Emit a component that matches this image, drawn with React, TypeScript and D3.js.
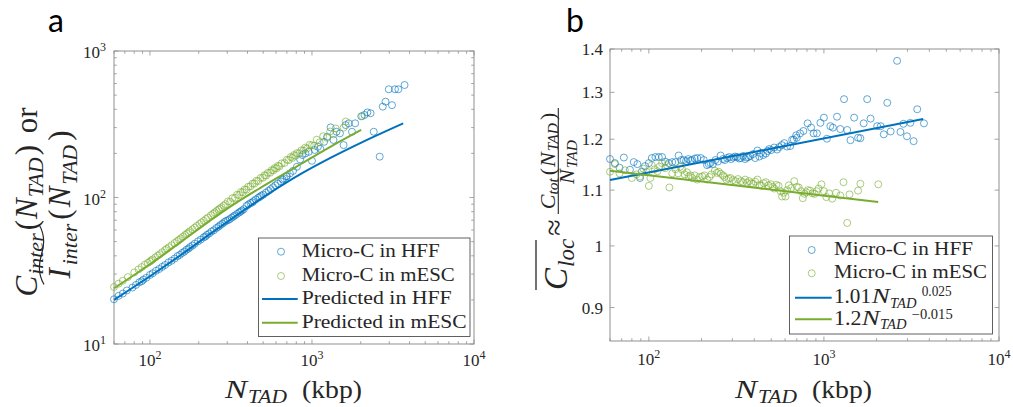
import React from 'react';
import * as d3 from 'd3';

// ---------- data ----------
// [N_TAD (kbp), panel a value, panel b value]
const hffData: [number, number, number][] = [
  [60,20.2,1.160],[64,21.3,1.152],[68,22.1,1.143],[72,23.2,1.163],[78,24.3,1.139],[82,25.3,1.154],[86,26.4,1.150],[89,26.8,1.123],[91,27.5,1.135],[95,28.3,1.146],
  [100,29.6,1.152],[104,30.4,1.162],[109,31.6,1.164],[114,32.5,1.164],[119,33.6,1.164],[124,34.6,1.155],[130,36,1.152],[136,37,1.154],[142,38.3,1.154],[148,39.8,1.167],
  [153,40.6,1.158],[158,41.8,1.158],[163,42.7,1.156],[168,44,1.160],[173,44.8,1.157],[177,45.9,1.158],[183,47,1.161],[189,48.4,1.162],[198,50.2,1.162],[206,51.6,1.158],
  [215,53.5,1.148],[220,54.2,1.150],[225,55.6,1.152],[232,56.8,1.150],[240,58.6,1.158],[248,59.8,1.155],[257,61.9,1.167],[265,63.2,1.160],[272,64.8,1.158],[280,66.2,1.162],
  [288,68,1.164],[295,69.2,1.160],[303,70,1.163],[311,71.2,1.165],[320,72.8,1.164],[328,74.3,1.161],[335,75.5,1.162],[345,77.3,1.166],[355,79,1.160],[362,80.2,1.163],
  [370,81.5,1.164],[380,83.3,1.166],[394,87.5,1.170],[405,89.5,1.162],[417,91.5,1.177],[428,92.5,1.165],[436,94.5,1.172],[450,97,1.168],[466,99.5,1.171],[476,101,1.176],
  [487,103,1.180],[500,104.5,1.178],[520,108,1.183],[540,111,1.179],[556,114,1.184],[575,117.5,1.188],[594,121,1.192],[615,124.5,1.185],[642,129,1.186],[658,133,1.199],
  [673,135,1.199],[694,139.5,1.208],[700,140,1.203],[731,146,1.212],[764,152,1.217],[807,162,1.233],[845,182,1.224],[873,195,1.212],[912,200,1.212],[955,205,1.234],
  [1000,178,1.245],[1040,211,1.201],[1088,222,1.227],[1126,215,1.224],[1188,240,1.247],[1240,260,1.221],[1303,301,1.285],[1358,247,1.219],[1418,281,1.198],[1488,274,1.245],
  [1567,228,1.203],[1615,312,1.202],[1687,321,1.233],[1766,281,1.285],[1847,321,1.243],[2015,358,1.227],[2109,366,1.227],[2197,381,1.210],[2301,376,1.277],[2405,281,1.216],
  [2618,190,1.372],[2735,417,1.215],[2844,451,1.232],[2980,548,1.206],[3118,427,1.234],[3253,548,1.196],[3412,548,1.263],[3727,586,1.233],
];

const mescData: [number, number, number][] = [
  [60,24.5,1.135],[64,25.8,1.150],[68,27,1.132],[73,28.6,1.138],[80,30.8,1.123],[85,32.3,1.130],[89,33.5,1.126],[93,34.8,1.141],[97,35.8,1.135],[100,36.5,1.108],
  [102,37.2,1.123],[104,37.8,1.148],[108,39,1.140],[112,40.2,1.136],[115,41,1.145],[119,42.3,1.152],[124,43.8,1.142],[127,44.6,1.148],[131,45.8,1.105],[136,47.2,1.132],
  [142,48.9,1.140],[147,50.3,1.132],[151,51.4,1.145],[155,52.6,1.139],[160,54,1.130],[165,55.5,1.134],[169,56.6,1.126],[173,57.8,1.128],[177,58.9,1.123],[183,60.6,1.128],
  [189,62.3,1.120],[195,64,1.125],[202,65.9,1.126],[208,67.5,1.128],[215,69.4,1.120],[222,71.3,1.125],[228,72.9,1.130],[238,75.6,1.137],[245,77.4,1.133],[251,79,1.135],
  [258,80.9,1.131],[265,82.7,1.128],[270,84,1.125],[277,85.8,1.120],[285,87.9,1.122],[293,90,1.123],[303,94,1.119],[313,93.5,1.117],[323,99,1.121],[335,99.5,1.117],
  [345,104.5,1.115],[355,104,1.120],[364,109,1.114],[374,108.5,1.117],[384,113.5,1.113],[394,113,1.112],[405,118.5,1.116],[417,119,1.120],[430,124.5,1.110],[442,124.5,1.108],
  [454,130,1.113],[466,129.5,1.115],[482,136,1.109],[498,136.5,1.111],[510,142,1.106],[520,141,1.103],[535,147.5,1.110],[551,147.5,1.108],[565,154,1.098],[577,153,1.088],
  [590,159,1.095],[603,158,1.088],[617,164.5,1.100],[630,163,1.109],[650,171,1.104],[677,172,1.117],[700,181,1.106],[718,180,1.105],[740,189,1.098],[757,186.5,1.085],
  [775,195,1.093],[792,192.5,1.096],[810,201,1.100],[835,200.5,1.099],[860,210,1.094],[885,209,1.093],[910,219,1.098],[932,216,1.103],[968,229,1.111],[1000,227,1.098],
  [1033,226,1.087],[1070,248,1.094],[1115,238,1.084],[1173,262,1.095],[1240,255,1.090],[1294,282,1.115],[1358,270,1.040],[1400,296,1.092],[1567,300,1.099],[1615,330,1.112],
  [2044,360,1.111],
];

// predicted curves (panel a)
const predHffX = [60, 100, 160, 233, 310, 497, 799, 1282, 2061, 3656];
const predHffY = [20, 29, 41.5, 56, 70, 100, 139, 185, 240, 321];
const predMescX = [60, 100, 160, 233, 310, 497, 799, 1282, 2012];
const predMescY = [24, 35, 51, 69, 86, 119, 162, 220, 289];

// power-law fits (panel b), end points
const fitHffX = [60, 3690];
const fitHffY = [1.119, 1.242];
const fitMescX = [60, 2042];
const fitMescY = [1.137, 1.078];

// ticks and legend texts
const xTickExps = [2, 3, 4];
const aYTickExps = [1, 2, 3];
const bYTicks = [0.9, 1, 1.1, 1.2, 1.3, 1.4];
const bYTickLabels = ['0.9', '1', '1.1', '1.2', '1.3', '1.4'];
const legendA = ['Micro-C in HFF', 'Micro-C in mESC', 'Predicted in HFF', 'Predicted in mESC'];
const legendALen = [138, 153, 150, 165];
const legendB = ['Micro-C in HFF', 'Micro-C in mESC'];
const legendBLen = [139, 153];

// ---------- style ----------
const SERIF = '"Liberation Serif", "DejaVu Serif", serif';
const SANS = 'Lato, "Liberation Sans", sans-serif';
const TXT = '#262626';
const AX = '#8f8f8f';
const BLUE = '#0072BD';
const GREEN = '#77AC30';
const serif = { fontFamily: SERIF } as React.CSSProperties;

function logTicks(lo: number, hi: number) {
  const major: number[] = [];
  const minor: number[] = [];
  for (let k = Math.floor(Math.log10(lo)); k <= Math.ceil(Math.log10(hi)); k++) {
    for (let m = 1; m <= 9; m++) {
      const v = m * Math.pow(10, k);
      if (v < lo * 0.999 || v > hi * 1.001) continue;
      (m === 1 ? major : minor).push(v);
    }
  }
  return { major, minor };
}

type Scale = d3.ScaleLogarithmic<number, number>;

function Frame({ x, y, yMajor, yMinor }: { x: Scale; y: Scale; yMajor: number[]; yMinor: number[] }) {
  const [x0, x1] = x.range();
  const [yb, yt] = y.range();
  const xt = logTicks(x.domain()[0], x.domain()[1]);
  const els: React.ReactNode[] = [];
  const tick = (key: string, a: number, b: number, c: number, d: number) =>
    els.push(<line key={key} x1={a} y1={b} x2={c} y2={d} stroke={AX} strokeWidth={0.8} />);
  xt.major.forEach((v, i) => { const p = x(v); tick('xM' + i, p, yb, p, yb - 4.5); tick('xMt' + i, p, yt, p, yt + 4.5); });
  xt.minor.forEach((v, i) => { const p = x(v); tick('xm' + i, p, yb, p, yb - 2.8); tick('xmt' + i, p, yt, p, yt + 2.8); });
  yMajor.forEach((v, i) => { const p = y(v); tick('yM' + i, x0, p, x0 + 4.5, p); tick('yMr' + i, x1, p, x1 - 4.5, p); });
  yMinor.forEach((v, i) => { const p = y(v); tick('ym' + i, x0, p, x0 + 2.8, p); tick('ymr' + i, x1, p, x1 - 2.8, p); });
  return (
    <g>
      <rect x={x0} y={yt} width={x1 - x0} height={yb - yt} fill="none" stroke={AX} strokeWidth={1} />
      {els}
    </g>
  );
}

function XTickLabels({ x, base }: { x: Scale; base: number }) {
  return (
    <g>
      {xTickExps.map((e) => (
        <text key={e} x={x(Math.pow(10, e))} y={base} textAnchor="middle" style={serif} fontSize={17} fill={TXT}>
          10<tspan fontSize={12} dy={-7}>{e}</tspan>
        </text>
      ))}
    </g>
  );
}

function XLabel({ dx }: { dx: number }) {
  return (
    <g style={serif} fill={TXT}>
      <text x={225 + dx} y={398} fontSize={25} fontStyle="italic" textLength={22} lengthAdjust="spacingAndGlyphs">N</text>
      <text x={248 + dx} y={402.5} fontSize={18.5} fontStyle="italic" textLength={39} lengthAdjust="spacingAndGlyphs">TAD</text>
      <text x={302 + dx} y={398} fontSize={25.5} textLength={60} lengthAdjust="spacingAndGlyphs">(kbp)</text>
    </g>
  );
}

function Circles({ data, x, y, col, idx }: { data: [number, number, number][]; x: Scale; y: Scale; col: string; idx: 1 | 2 }) {
  return (
    <g>
      {data.map((d, i) => (
        <circle key={i} cx={x(d[0])} cy={y(d[idx])} r={3.5} fill="none" stroke={col} strokeOpacity={0.62} strokeWidth={1} />
      ))}
    </g>
  );
}

export default function App() {
  const xA = d3.scaleLog().domain([60, 1e4]).range([114, 474]);
  const yA = d3.scaleLog().domain([10, 1000]).range([344, 51]);
  const xB = d3.scaleLog().domain([60, 1e4]).range([610, 999]);
  const yB = d3.scaleLog().domain([0.85, 1.4]).range([341, 49]);

  const aYt = logTicks(10, 1000);

  const lineA = d3.line<number[]>().x((d) => xA(d[0])).y((d) => yA(d[1])).curve(d3.curveMonotoneX);
  const lineB = d3.line<number[]>().x((d) => xB(d[0])).y((d) => yB(d[1]));
  const zip = (a: number[], b: number[]) => a.map((v, i) => [v, b[i]]);

  return (
    <svg width={1013} height={407} style={{ position: 'absolute', left: 0, top: 0, background: '#fff' }}>
      <rect x={0} y={0} width={1013} height={407} fill="#fff" />

      {/* ---------------- panel a ---------------- */}
      <text x={48} y={32} style={{ fontFamily: SANS }} fontSize={32} fill="#000">a</text>
      <Frame x={xA} y={yA} yMajor={aYt.major} yMinor={aYt.minor} />
      {aYTickExps.map((e) => (
        <text key={e} x={106} y={yA(Math.pow(10, e)) + 7.3} textAnchor="end" style={serif} fontSize={17} fill={TXT}>
          10<tspan fontSize={12} dy={-7}>{e}</tspan>
        </text>
      ))}
      <XTickLabels x={xA} base={366} />
      <XLabel dx={0} />

      {/* y label a */}
      <g transform="translate(36.5,202) rotate(-90)" style={serif} fill={TXT}>
        <text x={0} y={0} textAnchor="middle" fontSize={31}>
          <tspan fontStyle="italic">C</tspan>
          <tspan fontStyle="italic" fontSize={22} dy={6.5} dx={1}>inter</tspan>
          <tspan dy={-6.5} dx={3}>(</tspan>
          <tspan fontStyle="italic" dx={1}>N</tspan>
          <tspan fontStyle="italic" fontSize={22} dy={6.5} dx={1}>TAD</tspan>
          <tspan dy={-6.5} dx={2}>)</tspan>
          <tspan dx={4}> or</tspan>
        </text>
      </g>
      <g transform="translate(70,204.5) rotate(-90)" style={serif} fill={TXT}>
        <text x={0} y={0} textAnchor="middle" fontSize={31}>
          <tspan fontStyle="italic">I</tspan>
          <tspan fontStyle="italic" fontSize={22} dy={6.5} dx={3}>inter</tspan>
          <tspan dy={-6.5} dx={4}>(</tspan>
          <tspan fontStyle="italic" dx={2}>N</tspan>
          <tspan fontStyle="italic" fontSize={22} dy={6.5} dx={2}>TAD</tspan>
          <tspan dy={-6.5} dx={4}>)</tspan>
        </text>
        <path d="M -80,-26 C -70,-32 -58,-31 -50,-28.5 S -30,-25 -20,-31" fill="none" stroke={TXT} strokeWidth={1.2} />
      </g>

      <Circles data={hffData} x={xA} y={yA} col={BLUE} idx={1} />
      <Circles data={mescData} x={xA} y={yA} col={GREEN} idx={1} />
      <path d={lineA(zip(predHffX, predHffY)) || ''} fill="none" stroke={BLUE} strokeWidth={2} />
      <path d={lineA(zip(predMescX, predMescY)) || ''} fill="none" stroke={GREEN} strokeWidth={2} />

      {/* legend a */}
      <rect x={258.5} y={238} width={211.5} height={98.5} fill="#fff" stroke="#3a3a3a" strokeWidth={0.8} />
      <circle cx={281} cy={251.7} r={3.5} fill="none" stroke={BLUE} strokeOpacity={0.62} />
      <circle cx={281} cy={276} r={3.5} fill="none" stroke={GREEN} strokeOpacity={0.62} />
      <line x1={262} x2={297.7} y1={299} y2={299} stroke={BLUE} strokeWidth={2} />
      <line x1={262} x2={297.7} y1={322.7} y2={322.7} stroke={GREEN} strokeWidth={2} />
      {legendA.map((t, i) => (
        <text key={t} x={301.7} y={[256.5, 280.5, 304, 327.5][i]} style={serif} fontSize={19.5} fill={TXT}
          textLength={legendALen[i]} lengthAdjust="spacingAndGlyphs">{t}</text>
      ))}

      {/* ---------------- panel b ---------------- */}
      <text x={566} y={32} style={{ fontFamily: SANS }} fontSize={32} fill="#000">b</text>
      <Frame x={xB} y={yB} yMajor={bYTicks} yMinor={[]} />
      {bYTicks.map((v, i) => (
        <text key={v} x={603} y={yB(v) + 6} textAnchor="end" style={serif} fontSize={17} fill={TXT}>{bYTickLabels[i]}</text>
      ))}
      <XTickLabels x={xB} base={365} />
      <XLabel dx={510} />

      {/* y label b */}
      <g transform="translate(567,0) rotate(-90)" style={serif} fill={TXT}>
        <text x={-290} y={0} fontSize={33} fontStyle="italic">
          C<tspan fontSize={23} dy={6.5} dx={1}>loc</tspan>
        </text>
        <line x1={-290} x2={-240} y1={-31} y2={-31} stroke={TXT} strokeWidth={1.3} />
        <text x={-227.5} y={-3} textAnchor="middle" fontSize={30}>≈</text>
        <line x1={-214} x2={-108} y1={-8.7} y2={-8.7} stroke={TXT} strokeWidth={1.1} />
        <text x={-161} y={-12.5} textAnchor="middle" fontSize={22}>
          <tspan fontStyle="italic">C</tspan>
          <tspan fontStyle="italic" fontSize={15.5} dy={3}>tot</tspan>
          <tspan dy={-3} dx={3}>(</tspan>
          <tspan fontStyle="italic" dx={1}>N</tspan>
          <tspan fontStyle="italic" fontSize={15.5} dy={3} dx={1}>TAD</tspan>
          <tspan dy={-3} dx={3}>)</tspan>
        </text>
        <text x={-162} y={6.5} textAnchor="middle" fontSize={22}>
          <tspan fontStyle="italic">N</tspan>
          <tspan fontStyle="italic" fontSize={15.5} dy={3.5} dx={1}>TAD</tspan>
        </text>
      </g>

      <Circles data={hffData} x={xB} y={yB} col={BLUE} idx={2} />
      <Circles data={mescData} x={xB} y={yB} col={GREEN} idx={2} />
      <path d={lineB(zip(fitHffX, fitHffY)) || ''} fill="none" stroke={BLUE} strokeWidth={2} />
      <path d={lineB(zip(fitMescX, fitMescY)) || ''} fill="none" stroke={GREEN} strokeWidth={2} />

      {/* legend b */}
      <rect x={789.5} y={236} width={203} height={98} fill="#fff" stroke="#3a3a3a" strokeWidth={0.8} />
      <circle cx={811.7} cy={250} r={3.5} fill="none" stroke={BLUE} strokeOpacity={0.62} />
      <circle cx={811.7} cy={273.3} r={3.5} fill="none" stroke={GREEN} strokeOpacity={0.62} />
      <line x1={795} x2={831.7} y1={297.7} y2={297.7} stroke={BLUE} strokeWidth={2} />
      <line x1={795} x2={831.7} y1={319.3} y2={319.3} stroke={GREEN} strokeWidth={2} />
      {legendB.map((t, i) => (
        <text key={t} x={834} y={[255, 278][i]} style={serif} fontSize={19.5} fill={TXT}
          textLength={legendBLen[i]} lengthAdjust="spacingAndGlyphs">{t}</text>
      ))}
      <g style={serif} fill={TXT}>
        <text x={834} y={303} fontSize={20} textLength={37} lengthAdjust="spacingAndGlyphs">1.01</text>
        <text x={871.7} y={303} fontSize={20} fontStyle="italic" textLength={18} lengthAdjust="spacingAndGlyphs">N</text>
        <text x={890} y={307.5} fontSize={14.5} fontStyle="italic" textLength={26.5} lengthAdjust="spacingAndGlyphs">TAD</text>
        <text x={921.7} y={295.5} fontSize={14} textLength={30} lengthAdjust="spacingAndGlyphs">0.025</text>
        <text x={834} y={324.5} fontSize={20} textLength={27.5} lengthAdjust="spacingAndGlyphs">1.2</text>
        <text x={861.7} y={324.5} fontSize={20} fontStyle="italic" textLength={18} lengthAdjust="spacingAndGlyphs">N</text>
        <text x={880} y={329} fontSize={14.5} fontStyle="italic" textLength={26.5} lengthAdjust="spacingAndGlyphs">TAD</text>
        <text x={911.7} y={318.5} fontSize={14} textLength={41} lengthAdjust="spacingAndGlyphs">−0.015</text>
      </g>
    </svg>
  );
}
